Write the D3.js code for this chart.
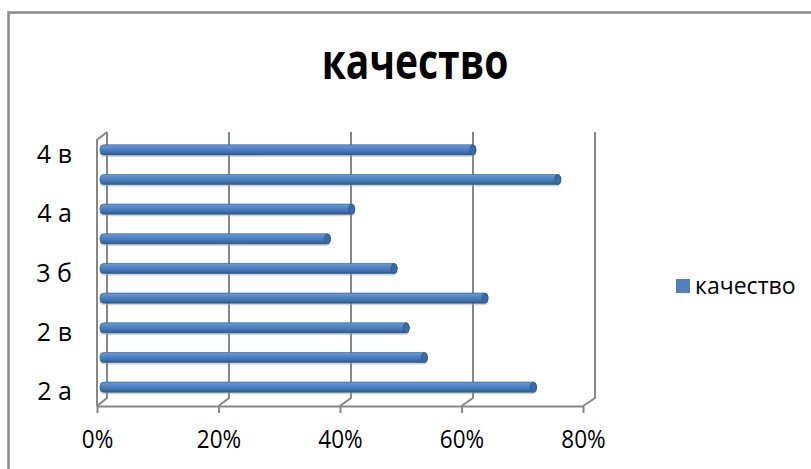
<!DOCTYPE html>
<html>
<head>
<meta charset="utf-8">
<script src="https://cdn.jsdelivr.net/npm/d3@7"></script>
<style>
  body { margin: 0; background: #fff; }
  text { font-family: "Open Sans", "DejaVu Sans", sans-serif; }
</style>
</head>
<body>
<svg width="811" height="469"></svg>
<script>
// data, bottom to top
const classes = ['2 а', '2 б', '2 в', '3 а', '3 б', '3 в', '4 а', '4 б', '4 в'];
const quality = [0.72, 0.54, 0.51, 0.64, 0.49, 0.38, 0.42, 0.76, 0.62];
const xTicks = [0, 0.2, 0.4, 0.6, 0.8];
const shownLabels = ['2 а', '2 в', '3 б', '4 а', '4 в'];

const svg = d3.select("svg");

// chart frame
svg.append("rect")
    .attr("x", 8.5).attr("y", 12.5)
    .attr("width", 830).attr("height", 480)
    .attr("fill", "none")
    .attr("stroke", "#8a8a8a")
    .attr("stroke-width", 2.5);

// fake 3d: front floor edge, back wall, and the bars in between
const xFront = d3.scaleLinear().domain([0, 0.8]).range([97, 583]);
const xBack = d3.scaleLinear().domain([0, 0.8]).range([107, 595]);
const xBar = d3.scaleLinear().domain([0, 0.8]).range([100, 585]);
const floorFront = 406, floorBack = 398, wallTop = 132;

const y = d3.scaleBand()
    .domain(classes)
    .range([402, 135])
    .paddingInner(0.66)
    .paddingOuter(0.33);

const grid = svg.append("g")
    .attr("fill", "none")
    .attr("stroke", "#878787")
    .attr("stroke-width", 2);

// back wall gridlines + floor diagonals
xTicks.forEach(t => {
    grid.append("path")
        .attr("d", `M${xFront(t)},${floorFront}L${xBack(t)},${floorBack}L${xBack(t)},${wallTop}`);
});
// left wall front edge
grid.append("path")
    .attr("d", `M${xFront(0)},${floorFront}L${xFront(0)},140L${xBack(0)},${wallTop}`);

// x axis (front floor edge)
const xAxis = svg.append("g")
    .attr("transform", `translate(0,${floorFront})`)
    .call(d3.axisBottom(xFront).tickValues(xTicks).tickFormat(d3.format(".0%")).tickSize(7).tickSizeOuter(0));
xAxis.select(".domain").attr("stroke", "#878787").attr("stroke-width", 2);
xAxis.selectAll(".tick line").attr("stroke", "#878787").attr("stroke-width", 2);
xAxis.selectAll("text")
    .attr("y", 42).attr("dy", 0)
    .attr("font-size", 25)
    .attr("font-family", "'Open Sans', sans-serif")
    .attr("fill", "#000")
    .attr("transform", "scale(0.9,1)");

// y axis labels (every second category)
const yAxis = svg.append("g")
    .attr("transform", "translate(72,0)")
    .call(d3.axisLeft(y).tickValues(shownLabels).tickSize(0).tickPadding(0));
yAxis.select(".domain").remove();
yAxis.selectAll("text")
    .attr("dy", 13)
    .attr("font-size", 25)
    .attr("font-family", "'Open Sans', sans-serif")
    .attr("fill", "#000");

// bar gradient
const defs = svg.append("defs");
const grad = defs.append("linearGradient")
    .attr("id", "barGrad").attr("x1", 0).attr("y1", 0).attr("x2", 0).attr("y2", 1);
grad.append("stop").attr("offset", "0%").attr("stop-color", "#6d9ad3");
grad.append("stop").attr("offset", "35%").attr("stop-color", "#5288c8");
grad.append("stop").attr("offset", "75%").attr("stop-color", "#3f6fab");
grad.append("stop").attr("offset", "100%").attr("stop-color", "#2b5688");

const bars = svg.append("g")
    .selectAll("g")
    .data(classes.map((c, i) => ({ c: c, v: quality[i] })))
    .enter().append("g");

// soft shadow under the bar
bars.append("rect")
    .attr("x", xBar(0))
    .attr("y", d => y(d.c) + 2)
    .attr("width", d => xBar(d.v) - xBar(0))
    .attr("height", y.bandwidth())
    .attr("rx", 4)
    .attr("fill", "#9aa4b0")
    .attr("opacity", 0.45);

bars.append("rect")
    .attr("x", xBar(0))
    .attr("y", d => y(d.c))
    .attr("width", d => xBar(d.v) - xBar(0))
    .attr("height", y.bandwidth())
    .attr("rx", 4)
    .attr("fill", "url(#barGrad)")
    .attr("stroke", "#3a6296")
    .attr("stroke-width", 0.7);

// end cap
bars.append("ellipse")
    .attr("cx", d => xBar(d.v) - 3)
    .attr("cy", d => y(d.c) + y.bandwidth() / 2)
    .attr("rx", 3)
    .attr("ry", y.bandwidth() / 2)
    .attr("fill", "#3c6aa3")
    .attr("stroke", "#2d5283")
    .attr("stroke-width", 0.7);

// title
svg.append("text")
    .attr("transform", "translate(415,79) scale(0.78,1)")
    .attr("text-anchor", "middle")
    .attr("font-family", "'Liberation Sans', Arial, sans-serif")
    .attr("font-weight", "bold")
    .attr("font-size", 50)
    .text("качество");

// legend
svg.append("rect")
    .attr("x", 676).attr("y", 279)
    .attr("width", 14).attr("height", 14)
    .attr("fill", "#4f81bd");
svg.append("text")
    .attr("transform", "translate(695,294) scale(0.96,1)")
    .attr("font-size", 24)
    .attr("fill", "#000")
    .text("качество");
</script>
</body>
</html>
